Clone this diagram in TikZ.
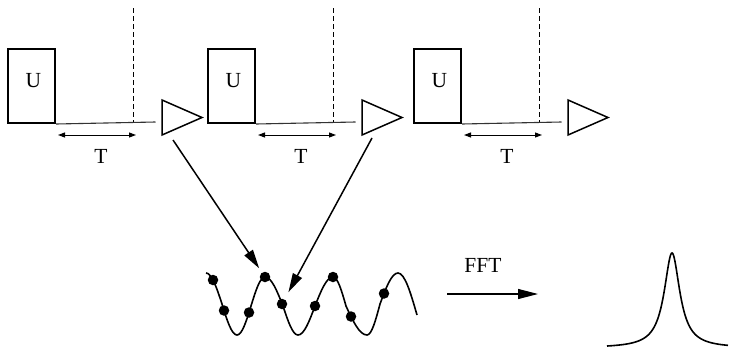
\documentclass[tikz,border=0pt]{standalone}
\usepackage{fontspec}
\setmainfont{Liberation Serif}
\usetikzlibrary{arrows.meta,calc}
\begin{document}
\begin{tikzpicture}[x=1pt,y=-1pt,
  ubox/.style={draw, line width=2pt, minimum width=47pt, minimum height=74pt, inner sep=0pt, anchor=north west},
  lbl/.style={font=\fontsize{21.5}{25}\selectfont, inner sep=0pt},
  baseln/.style={line width=1.1pt, black!80},
  vdash/.style={line width=0.9pt, dash pattern=on 5pt off 3pt},
  tline/.style={line width=1pt, {Triangle[length=7pt,width=5pt]}-{Triangle[length=7pt,width=5pt]}},
  trishape/.style={line width=1.5pt, line join=miter},
  bigarrow/.style={line width=1.5pt, -{Triangle[length=19pt,width=10pt]}},
  wave/.style={line width=1.6pt},
  dot/.style={circle, fill, inner sep=0pt, minimum size=10.5pt}
]
\useasboundingbox (0,0) rectangle (730,348);

\foreach \i/\x in {1/7, 2/207, 3/413}{
  \node[ubox] (b\i) at (\x,48) {};
  \node[lbl] (u\i) at ($(b\i.center)+(2,-5)$) {U};
  \coordinate (le\i) at (\x+148.5,122);
  \draw[baseln] (b\i.south east) -- (le\i);
  \coordinate (dt\i) at (\x+126.5,8);
  \coordinate (db\i) at (\x+126.5,122);
  \draw[vdash] (dt\i) -- (db\i);
  \coordinate (as\i) at (\x+51,135);
  \coordinate (ae\i) at (\x+129,135);
  \draw[tline] (as\i) -- (ae\i);
  \node[lbl] (T\i) at (\x+94,156) {T};
  \coordinate (ta\i) at (\x+155,100);
  \coordinate (tb\i) at (\x+155,135);
  \coordinate (tc\i) at (\x+195,117.5);
  \draw[trishape] (ta\i) -- (tc\i) -- (tb\i) -- cycle;
}

% sampled wave
\draw[wave] (206,273) cos (222,304) sin (237,335) cos (251,306) sin (265,277)
  cos (283,306) sin (298,335) cos (315,306) sin (333,277)
  cos (346,306) sin (367,335) cos (380,304) sin (398,273) cos (417,315);

\node[dot] (d1) at (213,280) {};
\node[dot] (d2) at (224,310.5) {};
\node[dot] (d3) at (249,312.5) {};
\node[dot] (d4) at (265,277) {};
\node[dot] (d5) at (282,304) {};
\node[dot] (d6) at (315,306) {};
\node[dot] (d7) at (333,277) {};
\node[dot] (d8) at (351,316.5) {};
\node[dot] (d9) at (384,293.5) {};

% arrows from pulses to samples
\coordinate (s1) at ($(tb1)+(11,5)$);
\coordinate (s2) at ($(tb2)+(10,3)$);
\draw[bigarrow, shorten >=5pt] (s1) -- (d4);
\draw[bigarrow, shorten >=8pt] (s2) -- (d5);

% FFT
\node[lbl] (fft) at (483,265) {FFT};
\coordinate (fa) at (447,294);
\coordinate (fb) at (538,294);
\draw[line width=1.1pt, -{Triangle[length=20pt,width=10pt]}] (fa) -- (fb);

% spectrum peak
\draw[wave] plot[domain=607:728, samples=241, smooth] (\x, {348 - 95/(1+((\x-672)/9.5)^2)});
\end{tikzpicture}
\end{document}
